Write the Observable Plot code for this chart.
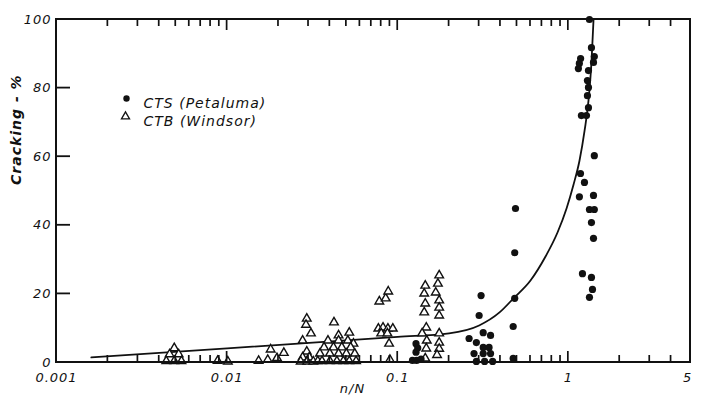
<!DOCTYPE html>
<html><head><meta charset="utf-8">
<script src="https://cdn.jsdelivr.net/npm/d3@7"></script>
<script src="https://cdn.jsdelivr.net/npm/@observablehq/plot@0.6"></script>
<style>body{margin:0;background:#fff}</style>
</head><body><div id="chart"></div>
<script>
// CTS (Petaluma) — filled circles
const ctsX = [0.128,0.131,0.128,0.122,0.129,0.137,
  0.308,0.300,0.317,0.262,0.35,0.289,0.317,0.343,0.28,0.317,0.35,0.289,0.323,0.36,
  0.49,0.485,0.485,0.475,0.475,
  1.33,1.366,1.42,1.404,1.18,1.16,1.145,1.312,1.294,1.312,1.294,1.312,1.193,1.277,1.42,1.178,1.243,1.161,1.404,1.33,1.42,1.366,1.404,1.21,1.366,1.385,1.33];
const ctsY = [5.5,4.2,3.0,0.6,0.6,1.0,
  19.5,13.7,8.7,7.0,7.9,5.8,4.4,4.4,2.6,2.6,2.6,0.3,0.3,0.3,
  44.9,32.0,18.7,10.5,1.2,
  100,91.8,89.2,87.5,88.6,87.2,85.7,85.1,82.2,80.2,77.8,74.3,72,72,60.3,55.1,52.5,48.3,48.7,44.6,44.6,40.8,36.2,25.9,24.8,21.3,19];
// CTB (Windsor) — open triangles
const ctbX = [0.0049,0.0046,0.0052,0.0044,0.0049,0.0054,
  0.0088,0.0101,
  0.0153,0.0173,0.018,0.0196,0.0215,
  0.0293,0.029,0.031,0.0277,0.0293,0.0277,0.0303,0.027,0.0295,0.032,
  0.0423,
  0.052,0.045,0.039,0.045,0.051,0.055,0.037,0.042,0.047,0.053,0.035,0.040,0.045,0.050,0.056,0.034,0.036,0.040,0.044,0.048,0.052,0.057,
  0.077,0.082,0.0876,0.0936,0.080,0.087,0.089,0.090,0.078,0.085,0.088,
  0.145,0.143,0.145,0.143,0.167,0.175,0.172,0.175,0.175,0.175,
  0.147,0.139,0.148,0.147,0.145,0.175,0.175,0.175,0.170];
const ctbY = [4.2,2.4,2.4,0.4,0.4,0.4,
  0.5,0.3,
  0.5,0.8,3.8,1.3,2.8,
  12.8,11.0,8.5,6.4,3.2,1.5,1.5,0.3,0.3,0.3,
  11.7,
  8.7,7.9,6.4,6.4,6.4,5.5,4.4,4.4,4.4,4.4,2.6,2.6,2.6,2.6,2.6,0.4,0.4,0.4,0.4,0.4,0.4,0.4,
  9.9,10.2,9.9,9.9,8.5,8.5,5.5,0.8,17.8,18.7,20.7,
  22.4,20.1,17.2,14.6,20.4,25.4,23.0,18.1,16.0,13.7,
  10.2,8.5,6.4,4.1,1.2,8.5,5.8,4.0,2.2];
// fitted curve
const curveX = [0.0016,0.01,0.1,0.2,0.3,0.395,0.477,0.600,0.735,0.864,0.976,1.073,1.163,1.245,1.313,1.368,1.405];
const curveY = [1.5,4.1,7.5,8.5,10.8,14.6,18.7,23.9,30.9,37.9,44.9,51.9,58.9,67.6,76.4,88,100];
// axes
const xDomain = [0.001,5.2];
const yDomain = [0,100];
const xTickValues = [0.001,0.01,0.1,1,5];
const xTickLabels = ["0.001","0.01","0.1","1","5"];
const xMajorTicks = [0.01,0.1,1];
const xMinorTicks = [0.002,0.003,0.004,0.005,0.006,0.007,0.008,0.009,
  0.02,0.03,0.04,0.05,0.06,0.07,0.08,0.09,
  0.2,0.3,0.4,0.5,0.6,0.7,0.8,0.9,
  2,3,4];
const yTicks = [0,20,40,60,80,100];
const legendLabels = ["CTS (Petaluma)","CTB (Windsor)"];

const W=701,H=399,mL=56,mR=11,mT=19,mB=37;
const innerW=W-mL-mR, innerH=H-mT-mB;
const ink = "#111";
// size of one pixel in scale units (used for line thickness / tick length)
const pxX = Math.pow(xDomain[1]/xDomain[0], 1/innerW);   // multiplicative, log scale
const pxY = (yDomain[1]-yDomain[0])/innerH;              // additive, linear scale

const cts = ctsX.map((x,i)=>({x,y:ctsY[i]}));
const ctb = ctbX.map((x,i)=>({x,y:ctbY[i]}));
const curvePts = curveX.map((x,i)=>({x,y:curveY[i]}));

// filled thin rectangles for ticks and frame
const tickHalfW = 0.85, frameHalfW = 1.0;
const xTickRects = (vals, len, atTop) => Plot.rect(vals, {
  x1: d => d / Math.pow(pxX, tickHalfW), x2: d => d * Math.pow(pxX, tickHalfW),
  y1: atTop ? yDomain[1] : yDomain[0],
  y2: atTop ? yDomain[1] - len*pxY : yDomain[0] + len*pxY,
  fill: ink, inset: 0});
const frameSides = ["bottom","top","left","right"];
const side = (s) => ({
  x1: s==="right" ? xDomain[1]/Math.pow(pxX,frameHalfW) : xDomain[0]/Math.pow(pxX,frameHalfW),
  x2: s==="left" ? xDomain[0]*Math.pow(pxX,frameHalfW) : xDomain[1]*Math.pow(pxX,frameHalfW),
  y1: s==="top" ? yDomain[1]-frameHalfW*pxY : yDomain[0]-frameHalfW*pxY,
  y2: s==="bottom" ? yDomain[0]+frameHalfW*pxY : yDomain[1]+frameHalfW*pxY
});

const chart = Plot.plot({
  width:W, height:H, marginLeft:mL, marginRight:mR, marginTop:mT, marginBottom:mB,
  x:{type:"log", domain:xDomain}, y:{domain:yDomain},
  style:{fontFamily:"DejaVu Sans", fontStyle:"italic", fontSize:"13px", letterSpacing:"1px", background:"#fff"},
  marks:[
    Plot.axisX({ticks:[], label:null}), Plot.axisY({ticks:[], label:null}),
    Plot.text(yTicks,{y:d=>d, text:d=>String(d), frameAnchor:"left", textAnchor:"end", dx:-5, fill:ink}),
    Plot.text(xTickValues,{x:d=>d, text:(d,i)=>xTickLabels[i], frameAnchor:"bottom", lineAnchor:"top", dy:10, fill:ink}),
    Plot.line(curvePts,{x:"x", y:"y", curve:"monotone-x", strokeWidth:1.8, stroke:ink}),
    Plot.dot(ctb,{x:"x", y:"y", symbol:"triangle", r:3.2, stroke:ink, fill:"white", strokeWidth:1.4}),
    Plot.dot(cts,{x:"x", y:"y", r:3.6, fill:ink}),
    // ticks (inward) and frame as filled rects
    xTickRects(xMinorTicks, 7, false),
    xTickRects(xMajorTicks, 11, false),
    xTickRects(xMinorTicks, 7, true),
    xTickRects(xMajorTicks, 11, true),
    Plot.rect(yTicks,{x1:xDomain[0], x2:xDomain[0]*Math.pow(pxX,14), y1:d=>d-0.9*pxY, y2:d=>d+0.9*pxY, fill:ink, inset:0}),
    Plot.rect(frameSides,{x1:s=>side(s).x1, x2:s=>side(s).x2, y1:s=>side(s).y1, y2:s=>side(s).y2, fill:ink, inset:0}),
    // legend
    Plot.dot([0],{frameAnchor:"top-left", dx:70, dy:79, r:3.2, fill:ink}),
    Plot.dot([0],{frameAnchor:"top-left", dx:69, dy:97, r:3, symbol:"triangle", stroke:ink, fill:"white", strokeWidth:1.3}),
    Plot.text([legendLabels[0]],{frameAnchor:"top-left", text:d=>d, dx:87, dy:79, textAnchor:"start", fontSize:14, fill:ink}),
    Plot.text([legendLabels[1]],{frameAnchor:"top-left", text:d=>d, dx:87, dy:97, textAnchor:"start", fontSize:14, fill:ink}),
    // titles
    Plot.text(["Cracking - %"],{frameAnchor:"left", text:d=>d, rotate:-90, dx:-40, dy:-6, fontSize:14, fontWeight:"bold", fill:ink}),
    Plot.text(["n/N"],{frameAnchor:"bottom", text:d=>d, dx:-21, dy:30, fontSize:13, fill:ink})
  ]
});
document.getElementById("chart").appendChild(chart);
</script>
</body></html>
